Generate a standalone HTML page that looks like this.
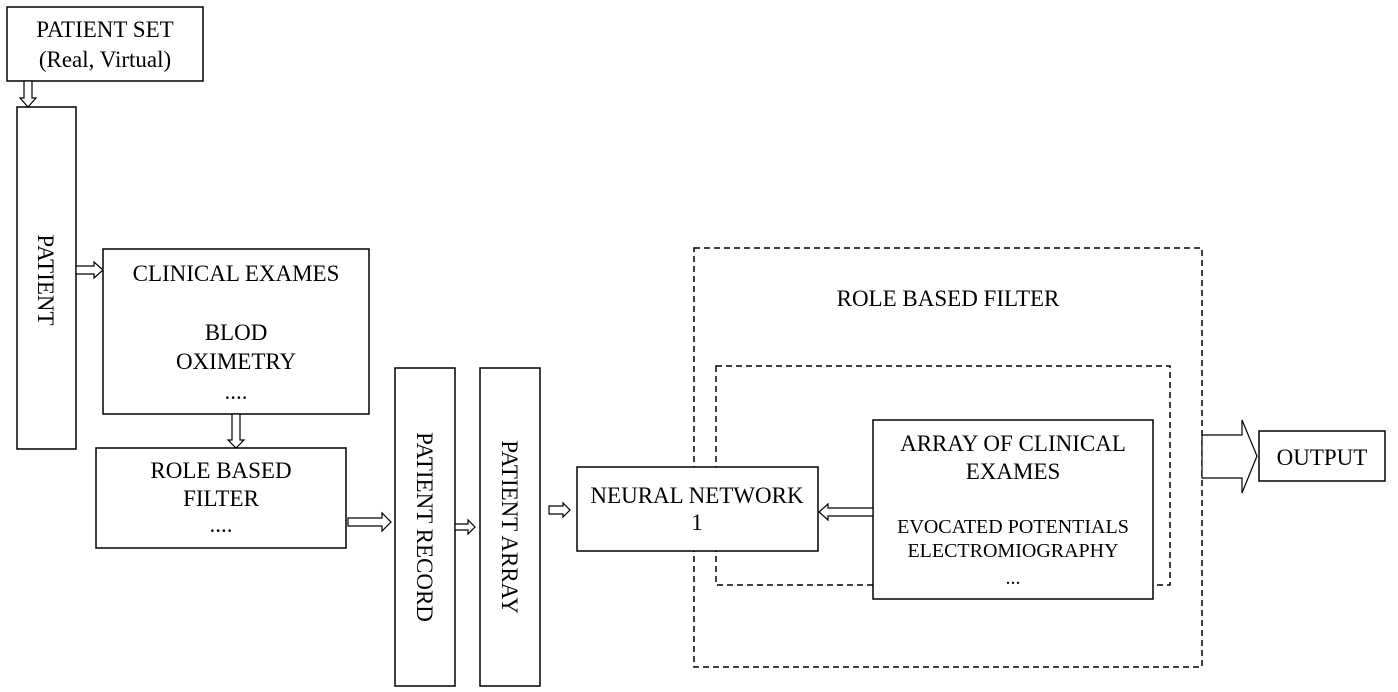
<!DOCTYPE html>
<html><head><meta charset="utf-8"><style>
html,body{margin:0;padding:0;background:#fff;}
svg{display:block;}
text{font-family:"Liberation Serif",serif;fill:#000;}
</style></head><body>
<svg width="1398" height="692" viewBox="0 0 1398 692" xmlns="http://www.w3.org/2000/svg">
<g fill="#fff" stroke="#000" stroke-width="1.5">
<rect x="7" y="7" width="196" height="74"/>
<rect x="17" y="107" width="59" height="342"/>
<rect x="103" y="249" width="266" height="165"/>
<rect x="96" y="448" width="250" height="100"/>
<rect x="395" y="368" width="60" height="318"/>
<rect x="480" y="368" width="60" height="318"/>
<rect x="694" y="248" width="508" height="419" stroke-dasharray="6,4" fill="none"/>
<rect x="716" y="366" width="454" height="219" stroke-dasharray="6,4" fill="none"/>
<rect x="577" y="467" width="241" height="84"/>
<rect x="873" y="420" width="280" height="179"/>
<rect x="1259" y="431" width="126" height="50"/>
</g>
<g fill="#fff" stroke="#000" stroke-width="1.2">
<polygon points="24,81 32,81 32,98 36,98 28,107 20,98 24,98"/>
<polygon points="76,266 94,266 94,262 103,270 94,278 94,274 76,274"/>
<polygon points="232,414 240,414 240,440 244,440 236,448 228,440 232,440"/>
<polygon points="348,518 382,518 382,513 391,522 382,531 382,526 348,526"/>
<polygon points="455,524 468,524 468,520 475,527 468,534 468,530 455,530"/>
<polygon points="549,506 563,506 563,503 570,510 563,517 563,514 549,514"/>
<polygon points="873,508 828,508 828,504 819,512 828,520 828,516 873,516"/>
<polygon points="1202,435 1242,435 1242,420 1257,456 1242,493 1242,478 1202,478"/>
</g>
<g font-size="23" text-anchor="middle">
<text x="105" y="37">PATIENT SET</text>
<text x="105" y="67">(Real, Virtual)</text>
<text transform="translate(38,280) rotate(90)" text-anchor="middle">PATIENT</text>
<text x="236" y="281">CLINICAL EXAMES</text>
<text x="236" y="340">BLOD</text>
<text x="236" y="369">OXIMETRY</text>
<text x="236" y="399">....</text>
<text x="221" y="478">ROLE BASED</text>
<text x="221" y="506">FILTER</text>
<text x="221" y="532">....</text>
<text transform="translate(417,527) rotate(90)" text-anchor="middle">PATIENT RECORD</text>
<text transform="translate(502,527) rotate(90)" text-anchor="middle">PATIENT ARRAY</text>
<text x="697" y="503">NEURAL NETWORK</text>
<text x="697" y="530">1</text>
<text x="948" y="306">ROLE BASED FILTER</text>
<text x="1013" y="451">ARRAY OF CLINICAL</text>
<text x="1013" y="479">EXAMES</text>
<text x="1013" y="533" font-size="20">EVOCATED POTENTIALS</text>
<text x="1013" y="557" font-size="20">ELECTROMIOGRAPHY</text>
<text x="1013" y="584" font-size="20">...</text>
<text x="1322" y="465">OUTPUT</text>
</g>
</svg>
</body></html>
